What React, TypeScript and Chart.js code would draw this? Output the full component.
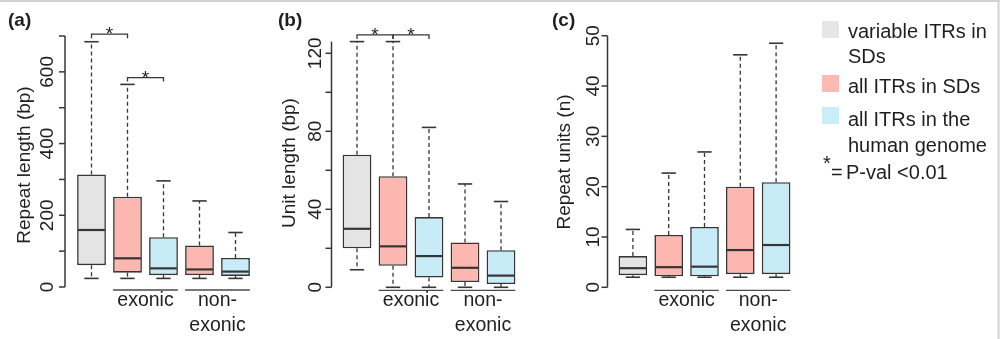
import { useEffect, useRef } from 'react';
import { Chart, registerables } from 'chart.js';

Chart.register(...registerables);

// Box order in every panel
const boxNames = [
  'variable ITRs in SDs',
  'all ITRs in SDs (exonic)',
  'all ITRs in the human genome (exonic)',
  'all ITRs in SDs (non-exonic)',
  'all ITRs in the human genome (non-exonic)',
];
const boxFill = ['#e4e4e4', '#fdb7b1', '#c7ecf8', '#fdb7b1', '#c7ecf8'];

// (a) Repeat length (bp)
const lenMin = [24, 24, 24, 24, 24];
const lenQ1 = [61, 40, 33, 33, 31];
const lenMedian = [159, 80, 52, 49, 43];
const lenQ3 = [314, 252, 139, 116, 81];
const lenMax = [684, 565, 296, 240, 152];
const lenTicks = [0, 100, 200, 300, 400, 500, 600, 700];
const lenTickLabels = ['0', '', '200', '', '400', '', '600', ''];
const lenSignif = [
  [0, 1, 705],
  [1, 2, 584],
];

// (b) Unit length (bp)
const unitMin = [9, 0, 0, 0, 0];
const unitQ1 = [20, 11, 5, 2.7, 1.7];
const unitMedian = [30, 21, 16, 10, 6];
const unitQ3 = [68, 57, 36, 23, 19];
const unitMax = [126, 126, 82, 53, 44];
const unitTicks = [0, 20, 40, 60, 80, 100, 120];
const unitTickLabels = ['0', '', '40', '', '80', '', '120'];
const unitSignif = [
  [0, 1, 129.4],
  [1, 2, 129.4],
];

// (c) Repeat units (n)
const rptMin = [2, 2, 2, 2, 2];
const rptQ1 = [2.4, 2.2, 2.2, 2.6, 2.6];
const rptMedian = [3.8, 4.0, 4.1, 7.4, 8.4];
const rptQ3 = [6.2, 10.4, 12.0, 20.0, 20.9];
const rptMax = [11.5, 22.7, 26.9, 46.2, 48.5];
const rptTicks = [0, 10, 20, 30, 40, 50];
const rptTickLabels = ['0', '10', '20', '30', '40', '50'];
const rptSignif: number[][] = [];

// Legend entries
const legendLabels = [['variable ITRs in', 'SDs'], ['all ITRs in SDs'], ['all ITRs in the', 'human genome']];
const legendFill = ['#e6e6e6', '#fdb9b3', '#c9eef8'];
const pNote = 'P-val <0.01';

const INK = '#363636';
const TEXT = '#1f1f1f';
const FONT = '"Liberation Sans", Arial, Helvetica, sans-serif';

type Panel = {
  letter: string;
  title: string;
  min: number[];
  q1: number[];
  median: number[];
  q3: number[];
  max: number[];
  yMax: number;
  ticks: number[];
  tickLabels: string[];
  signif: number[][];
  padding: { left: number; right: number; top: number; bottom: number };
  axisX: number;
  tickLabelX: number;
  titleX: number;
  titleY: number;
  letterX: number;
};

const panels: Panel[] = [
  {
    letter: '(a)',
    title: 'Repeat length (bp)',
    min: lenMin, q1: lenQ1, median: lenMedian, q3: lenQ3, max: lenMax,
    yMax: 700, ticks: lenTicks, tickLabels: lenTickLabels, signif: lenSignif,
    padding: { left: 73.5, right: 746.5, top: 36, bottom: 52 },
    axisX: 65, tickLabelX: 53, titleX: 29.5, titleY: 165, letterX: 8,
  },
  {
    letter: '(b)',
    title: 'Unit length (bp)',
    min: unitMin, q1: unitQ1, median: unitMedian, q3: unitQ3, max: unitMax,
    yMax: 126, ticks: unitTicks, tickLabels: unitTickLabels, signif: unitSignif,
    padding: { left: 339, right: 481, top: 41.6, bottom: 51.7 },
    axisX: 331.5, tickLabelX: 321, titleX: 295, titleY: 163, letterX: 278,
  },
  {
    letter: '(c)',
    title: 'Repeat units (n)',
    min: rptMin, q1: rptQ1, median: rptMedian, q3: rptQ3, max: rptMax,
    yMax: 50, ticks: rptTicks, tickLabels: rptTickLabels, signif: rptSignif,
    padding: { left: 615, right: 206, top: 35.7, bottom: 51.7 },
    axisX: 607.5, tickLabelX: 599, titleX: 570, titleY: 162, letterX: 552,
  },
];

function seg(ctx: CanvasRenderingContext2D, x1: number, y1: number, x2: number, y2: number) {
  ctx.beginPath();
  ctx.moveTo(x1, y1);
  ctx.lineTo(x2, y2);
  ctx.stroke();
}

function rotatedText(ctx: CanvasRenderingContext2D, text: string, x: number, y: number) {
  ctx.save();
  ctx.translate(x, y);
  ctx.rotate(-Math.PI / 2);
  ctx.textAlign = 'center';
  ctx.textBaseline = 'alphabetic';
  ctx.fillText(text, 0, 0);
  ctx.restore();
}

// Whiskers, medians, axis, group labels and significance brackets for one panel
function panelDecor(p: Panel) {
  return {
    id: 'panelDecor',
    afterDatasetsDraw(chart: any) {
      const ctx: CanvasRenderingContext2D = chart.ctx;
      const y = chart.scales.y;
      const bars = chart.getDatasetMeta(0).data;
      ctx.save();
      ctx.strokeStyle = INK;
      bars.forEach((bar: any, i: number) => {
        const cx = bar.x;
        const w = bar.width;
        const yLo = y.getPixelForValue(p.min[i]);
        const yQ1 = y.getPixelForValue(p.q1[i]);
        const yMed = y.getPixelForValue(p.median[i]);
        const yQ3 = y.getPixelForValue(p.q3[i]);
        const yHi = y.getPixelForValue(p.max[i]);
        ctx.lineWidth = 1.3;
        ctx.setLineDash([4, 3]);
        seg(ctx, cx, yQ3, cx, yHi);
        seg(ctx, cx, yQ1, cx, yLo);
        ctx.setLineDash([]);
        ctx.lineWidth = 1.6;
        seg(ctx, cx - w / 4, yHi, cx + w / 4, yHi);
        seg(ctx, cx - w / 4, yLo, cx + w / 4, yLo);
        ctx.lineWidth = 2.2;
        seg(ctx, cx - w / 2 + 1, yMed, cx + w / 2 - 1, yMed);
      });
      ctx.restore();
    },
    afterDraw(chart: any) {
      const ctx: CanvasRenderingContext2D = chart.ctx;
      const y = chart.scales.y;
      const bars = chart.getDatasetMeta(0).data;
      ctx.save();
      ctx.strokeStyle = INK;
      ctx.fillStyle = TEXT;

      // y axis
      ctx.lineWidth = 1.5;
      seg(ctx, p.axisX, y.getPixelForValue(0), p.axisX, y.getPixelForValue(p.yMax));
      ctx.font = `19px ${FONT}`;
      p.ticks.forEach((t, k) => {
        const ty = y.getPixelForValue(t);
        seg(ctx, p.axisX - 6, ty, p.axisX, ty);
        if (p.tickLabels[k]) rotatedText(ctx, p.tickLabels[k], p.tickLabelX, ty);
      });
      rotatedText(ctx, p.title, p.titleX, p.titleY);

      // panel letter
      ctx.font = `bold 19px ${FONT}`;
      ctx.textAlign = 'left';
      ctx.textBaseline = 'alphabetic';
      ctx.fillText(p.letter, p.letterX, 26);

      // group underlines and labels
      const base = y.getPixelForValue(0);
      const groups = [
        { from: 1, to: 2, lines: ['exonic'] },
        { from: 3, to: 4, lines: ['non-', 'exonic'] },
      ];
      ctx.font = `19.5px ${FONT}`;
      ctx.textAlign = 'center';
      groups.forEach((g) => {
        const x1 = bars[g.from].x - bars[g.from].width / 2;
        const x2 = bars[g.to].x + bars[g.to].width / 2;
        ctx.lineWidth = 1.3;
        ctx.strokeStyle = '#4a4a4a';
        seg(ctx, x1, base + 3, x2, base + 3);
        g.lines.forEach((s, k) => ctx.fillText(s, (x1 + x2) / 2, base + 19 + k * 25));
      });

      // significance brackets
      ctx.strokeStyle = INK;
      ctx.lineWidth = 1.3;
      ctx.font = `19px ${FONT}`;
      p.signif.forEach(([a, b, v]) => {
        const x1 = bars[a].x;
        const x2 = bars[b].x;
        const yb = y.getPixelForValue(v);
        ctx.beginPath();
        ctx.moveTo(x1, yb + 4);
        ctx.lineTo(x1, yb);
        ctx.lineTo(x2, yb);
        ctx.lineTo(x2, yb + 4);
        ctx.stroke();
        ctx.fillText('*', (x1 + x2) / 2, yb + 6);
      });
      ctx.restore();
    },
  };
}

// Legend on the right and the thin frame
const legendDecor = {
  id: 'legendDecor',
  afterDraw(chart: any) {
    const ctx: CanvasRenderingContext2D = chart.ctx;
    ctx.save();
    ctx.strokeStyle = '#d2d2d2';
    ctx.lineWidth = 2;
    seg(ctx, 0, 1, 1000, 1);
    seg(ctx, 998.5, 0, 998.5, 339);

    const squareTop = [21, 75, 107];
    const firstBaseline = [37.5, 92.5, 126];
    ctx.font = `20px ${FONT}`;
    ctx.textAlign = 'left';
    ctx.textBaseline = 'alphabetic';
    legendLabels.forEach((lines, i) => {
      ctx.fillStyle = legendFill[i];
      ctx.fillRect(822, squareTop[i], 17, 17);
      ctx.fillStyle = TEXT;
      lines.forEach((s, k) => ctx.fillText(s, 848, firstBaseline[i] + k * 25.5));
    });
    ctx.fillText('*', 823, 170);
    ctx.fillText('=', 831, 179);
    ctx.fillText(pNote, 846, 179);
    ctx.restore();
  },
};

function BoxPanel({ panel, withLegend }: { panel: Panel; withLegend: boolean }) {
  const ref = useRef<HTMLCanvasElement>(null);
  useEffect(() => {
    if (!ref.current) return;
    const chart = new Chart(ref.current, {
      type: 'bar',
      data: {
        labels: boxNames,
        datasets: [
          {
            data: panel.q1.map((v, i) => [v, panel.q3[i]]) as any,
            backgroundColor: boxFill,
            borderColor: INK,
            borderWidth: 1.6,
            borderSkipped: false,
            categoryPercentage: 1,
            barPercentage: 0.8,
          },
        ],
      },
      options: {
        responsive: false,
        animation: false,
        devicePixelRatio: 1,
        events: [],
        layout: { padding: panel.padding },
        plugins: { legend: { display: false }, tooltip: { enabled: false } },
        scales: {
          x: { display: false, offset: true, grid: { display: false } },
          y: { display: false, min: 0, max: panel.yMax, grid: { display: false } },
        },
      },
      plugins: withLegend ? [panelDecor(panel), legendDecor] : [panelDecor(panel)],
    });
    return () => chart.destroy();
  }, [panel, withLegend]);
  return (
    <canvas
      ref={ref}
      width={1000}
      height={339}
      style={{ position: 'absolute', left: 0, top: 0, width: 1000, height: 339 }}
    />
  );
}

export default function App() {
  return (
    <div style={{ position: 'fixed', left: 0, top: 0, width: 1000, height: 339, background: '#fff' }}>
      {panels.map((p, i) => (
        <BoxPanel key={p.letter} panel={p} withLegend={i === 2} />
      ))}
    </div>
  );
}
